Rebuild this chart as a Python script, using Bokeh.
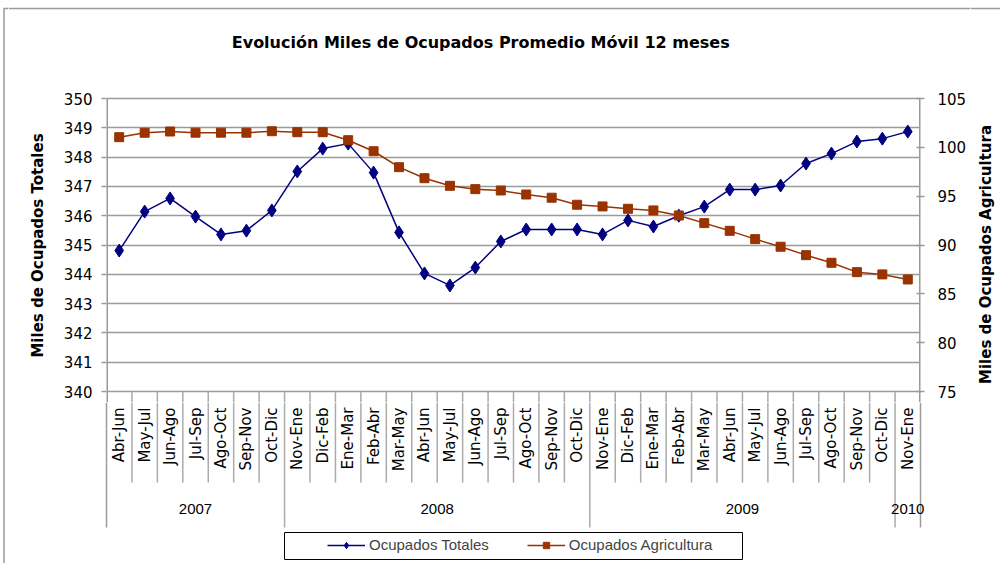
import math
from bokeh.plotting import figure
from bokeh.layouts import column, row
from bokeh.models import Range1d, LinearAxis, FixedTicker, Legend, LegendItem
from bokeh.core.properties import value
from bokeh.embed import file_html
from bokeh.resources import INLINE

# ---------------- data ----------------
categories = ["Abr-Jun", "May-Jul", "Jun-Ago", "Jul-Sep", "Ago-Oct", "Sep-Nov", "Oct-Dic",
              "Nov-Ene", "Dic-Feb", "Ene-Mar", "Feb-Abr", "Mar-May", "Abr-Jun", "May-Jul",
              "Jun-Ago", "Jul-Sep", "Ago-Oct", "Sep-Nov", "Oct-Dic",
              "Nov-Ene", "Dic-Feb", "Ene-Mar", "Feb-Abr", "Mar-May", "Abr-Jun", "May-Jul",
              "Jun-Ago", "Jul-Sep", "Ago-Oct", "Sep-Nov", "Oct-Dic",
              "Nov-Ene"]
years = ["2007", "2008", "2009", "2010"]
year_counts = [7, 12, 12, 1]

ocupados_totales = [344.81, 346.14, 346.59, 345.97, 345.36, 345.49, 346.18,
                    347.51, 348.29, 348.46, 347.47, 345.43, 344.03, 343.62,
                    344.23, 345.12, 345.53, 345.53, 345.53,
                    345.36, 345.84, 345.63, 346.00, 346.31, 346.89, 346.89,
                    347.03, 347.78, 348.12, 348.53, 348.63,
                    348.87]
ocupados_agricultura = [101.04, 101.49, 101.62, 101.50, 101.50, 101.50, 101.65,
                        101.55, 101.55, 100.73, 99.60, 97.97, 96.84, 96.06,
                        95.72, 95.58, 95.17, 94.84, 94.12,
                        93.95, 93.71, 93.54, 93.02, 92.24, 91.45, 90.60,
                        89.82, 88.96, 88.18, 87.22, 86.99,
                        86.47]

left_ticks = list(range(340, 351))
right_ticks = list(range(75, 106, 5))

title_text = "Evolución Miles de Ocupados  Promedio Móvil 12 meses"
left_label = "Miles de Ocupados Totales"
right_label = "Miles de Ocupados Agricultura"

# ---------------- layout constants (page pixels) ----------------
LEFT_W = 8                 # left border strip
RIGHT_X = 970              # start of right-label strip
W_TOTAL = 1000
COL_W = RIGHT_X - LEFT_W
FRAME_L, FRAME_R = 106, 920   # page columns of the plot frame
PPU = 29.3                 # pixels per left-axis unit
TOP_PX = 98                # page row of value 350
TITLE_H = 88               # title strip height
MAIN_BOTTOM = 402          # page row where the main figure ends
PAGE_H = 563
n = len(categories)
PPC = (FRAME_R - FRAME_L) / n

def v_at(px):              # page row -> left-axis value
    return 350 - (px - TOP_PX) / PPU

def x_at(px):              # page column -> category index coordinate
    return (px - FRAME_L) / PPC - 0.5

def r_of(v):               # left value -> right value (75..105 on 340..350)
    return 75 + (v - 340) * 3.0

GRID = "#9a9a9a"
SEP = "#ababab"
FONT = "DejaVu Sans"
BLUE = "#000080"
BROWN = "#993300"

def strip(width, height, xr, yr):
    f = figure(width=width, height=height, output_backend="svg", toolbar_location=None,
               x_range=xr, y_range=yr, x_axis_location=None, y_axis_location=None, min_border=0)
    f.frame_align = False
    f.outline_line_color = None
    f.grid.visible = False
    return f

# ---------------- left border strip ----------------
pl = strip(LEFT_W, PAGE_H, Range1d(0, LEFT_W), Range1d(PAGE_H, 0))
pl.segment(x0=[3.5], x1=[3.5], y0=[8], y1=[PAGE_H], line_color=GRID, line_width=1.5)
pl.segment(x0=[3], x1=[LEFT_W], y0=[8], y1=[8], line_color=GRID, line_width=1.5)

# ---------------- right label strip ----------------
pr = strip(W_TOTAL - RIGHT_X, PAGE_H, Range1d(RIGHT_X, W_TOTAL), Range1d(PAGE_H, 0))
pr.segment(x0=[RIGHT_X], x1=[W_TOTAL], y0=[8], y1=[8], line_color=GRID, line_width=1.5)
pr.text(x=[985], y=[254], text=[right_label], angle=math.pi / 2,
        text_align="center", text_baseline="middle", text_font=value(FONT),
        text_font_style="bold", text_font_size="15px", text_color="black")

# ---------------- title strip ----------------
pt = strip(COL_W, TITLE_H, Range1d(LEFT_W, RIGHT_X), Range1d(TITLE_H, 0))
pt.segment(x0=[LEFT_W], x1=[RIGHT_X], y0=[8], y1=[8], line_color=GRID, line_width=1.5)
pt.text(x=[483], y=[42], text=[title_text],
        text_align="center", text_baseline="middle", text_font=value(FONT),
        text_font_style="bold", text_font_size="16px", text_color="black")

# ---------------- main chart ----------------
main_h = MAIN_BOTTOM - TITLE_H
y0, y1 = v_at(MAIN_BOTTOM), v_at(TITLE_H)
p = figure(width=COL_W, height=main_h, output_backend="svg", toolbar_location=None,
           x_range=Range1d(-0.5, n - 0.5), y_range=Range1d(y0, y1),
           x_axis_location=None, y_axis_location="left",
           min_border_left=FRAME_L - LEFT_W, min_border_right=RIGHT_X - FRAME_R,
           min_border_top=0, min_border_bottom=0)
p.frame_align = False
p.extra_y_ranges = {"right": Range1d(r_of(y0), r_of(y1))}
p.outline_line_color = None
p.xgrid.visible = False
p.ygrid.ticker = FixedTicker(ticks=left_ticks)
p.ygrid.grid_line_color = GRID
p.ygrid.grid_line_width = 1.5

ax = p.yaxis[0]
ax.ticker = FixedTicker(ticks=left_ticks)
ax.axis_line_color = None
ax.major_tick_line_color = GRID
ax.major_tick_line_width = 1.5
ax.major_tick_out = 5
ax.major_tick_in = 0
ax.minor_tick_line_color = None
ax.major_label_text_font = FONT
ax.major_label_text_font_size = "15px"
ax.major_label_text_color = "black"
ax.major_label_standoff = 9
ax.axis_label = left_label
ax.axis_label_text_font = FONT
ax.axis_label_text_font_style = "bold"
ax.axis_label_text_font_size = "15px"
ax.axis_label_text_color = "black"
ax.axis_label_standoff = 14

rax = LinearAxis(y_range_name="right", ticker=FixedTicker(ticks=right_ticks))
rax.axis_line_color = None
rax.major_tick_line_color = GRID
rax.major_tick_line_width = 1.5
rax.major_tick_out = 4
rax.major_tick_in = 4
rax.minor_tick_line_color = None
rax.major_label_text_font = FONT
rax.major_label_text_font_size = "15px"
rax.major_label_text_color = "black"
rax.major_label_standoff = 13
p.add_layout(rax, "right")

cum = [0]
for c in year_counts:
    cum.append(cum[-1] + c)
year_bounds = [c - 0.5 for c in cum]           # -0.5, 6.5, 18.5, 30.5, 31.5
inner_years = year_bounds[1:-1]
cat_bounds = [k - 0.5 for k in range(1, n) if (k - 0.5) not in year_bounds]
edges = [year_bounds[0], year_bounds[-1]]

# top part of the table separators (inside main frame, below 340)
seps = cat_bounds + inner_years
p.segment(x0=seps, x1=seps, y0=[340] * len(seps), y1=[y0] * len(seps),
          line_color=SEP, line_width=1.5)
p.segment(x0=edges, x1=edges, y0=[350, 350], y1=[y0, y0], line_color=GRID, line_width=3)

xs = list(range(n))
p.line(xs, ocupados_totales, line_color=BLUE, line_width=1.5)
p.scatter(xs, ocupados_totales, marker="diamond", size=13, fill_color=BLUE, line_color=BLUE)
p.line(xs, ocupados_agricultura, y_range_name="right", line_color=BROWN, line_width=1.5)
p.scatter(xs, ocupados_agricultura, y_range_name="right", marker="square", size=9,
          fill_color=BROWN, line_color=BROWN)

# ---------------- category table + legend ----------------
tab_h = PAGE_H - MAIN_BOTTOM
tv0, tv1 = v_at(PAGE_H), v_at(MAIN_BOTTOM)
pb = strip(COL_W, tab_h, Range1d(x_at(LEFT_W), x_at(RIGHT_X)), Range1d(tv0, tv1))
pb.extra_y_ranges = {"right": Range1d(r_of(tv0), r_of(tv1))}

y_cat_sep = v_at(482)
y_year_sep = v_at(527)
pb.segment(x0=cat_bounds, x1=cat_bounds, y0=[tv1] * len(cat_bounds), y1=[y_cat_sep] * len(cat_bounds),
           line_color=SEP, line_width=1.5)
pb.segment(x0=inner_years, x1=inner_years, y0=[tv1] * len(inner_years), y1=[y_year_sep] * len(inner_years),
           line_color=SEP, line_width=1.5)
pb.segment(x0=edges, x1=edges, y0=[tv1, tv1], y1=[y_year_sep, y_year_sep],
           line_color=GRID, line_width=1.5)

pb.text(x=xs, y=[v_at(407)] * n, text=categories, angle=math.pi / 2,
        text_align="right", text_baseline="middle", text_font=value(FONT),
        text_font_size="15px", text_color="black")
year_x = [cum[i] + (year_counts[i] - 1) / 2 for i in range(len(years))]
pb.text(x=year_x, y=[v_at(508)] * len(years), text=years, text_align="center",
        text_baseline="middle", text_font=value("Liberation Sans"), text_font_size="15px",
        text_color="black")

pb.quad(left=[x_at(284)], right=[x_at(742)], top=[v_at(532)], bottom=[v_at(559)],
        fill_color="white", line_color="black", line_width=1)
# series re-drawn here only to feed the legend swatches (they lie above this strip's range)
g1 = pb.line(xs, ocupados_totales, line_color=BLUE, line_width=1.5)
g1m = pb.scatter(xs, ocupados_totales, marker="diamond", size=11, fill_color=BLUE, line_color=BLUE)
g2 = pb.line(xs, ocupados_agricultura, y_range_name="right", line_color=BROWN, line_width=1.5)
g2m = pb.scatter(xs, ocupados_agricultura, y_range_name="right", marker="square", size=8,
                 fill_color=BROWN, line_color=BROWN)
legend = Legend(items=[LegendItem(label="Ocupados Totales", renderers=[g1, g1m]),
                       LegendItem(label="Ocupados Agricultura", renderers=[g2, g2m])],
                orientation="horizontal", location=(327 - LEFT_W, 10), padding=0, margin=0,
                spacing=38, glyph_width=38, glyph_height=16, label_height=16, label_standoff=4,
                border_line_color=None, background_fill_alpha=0,
                label_text_font="Liberation Sans", label_text_font_size="15px")
pb.add_layout(legend)

layout = row(pl, column(pt, p, pb, spacing=0), pr, spacing=0)
open("out.html", "w").write(file_html(layout, INLINE))
